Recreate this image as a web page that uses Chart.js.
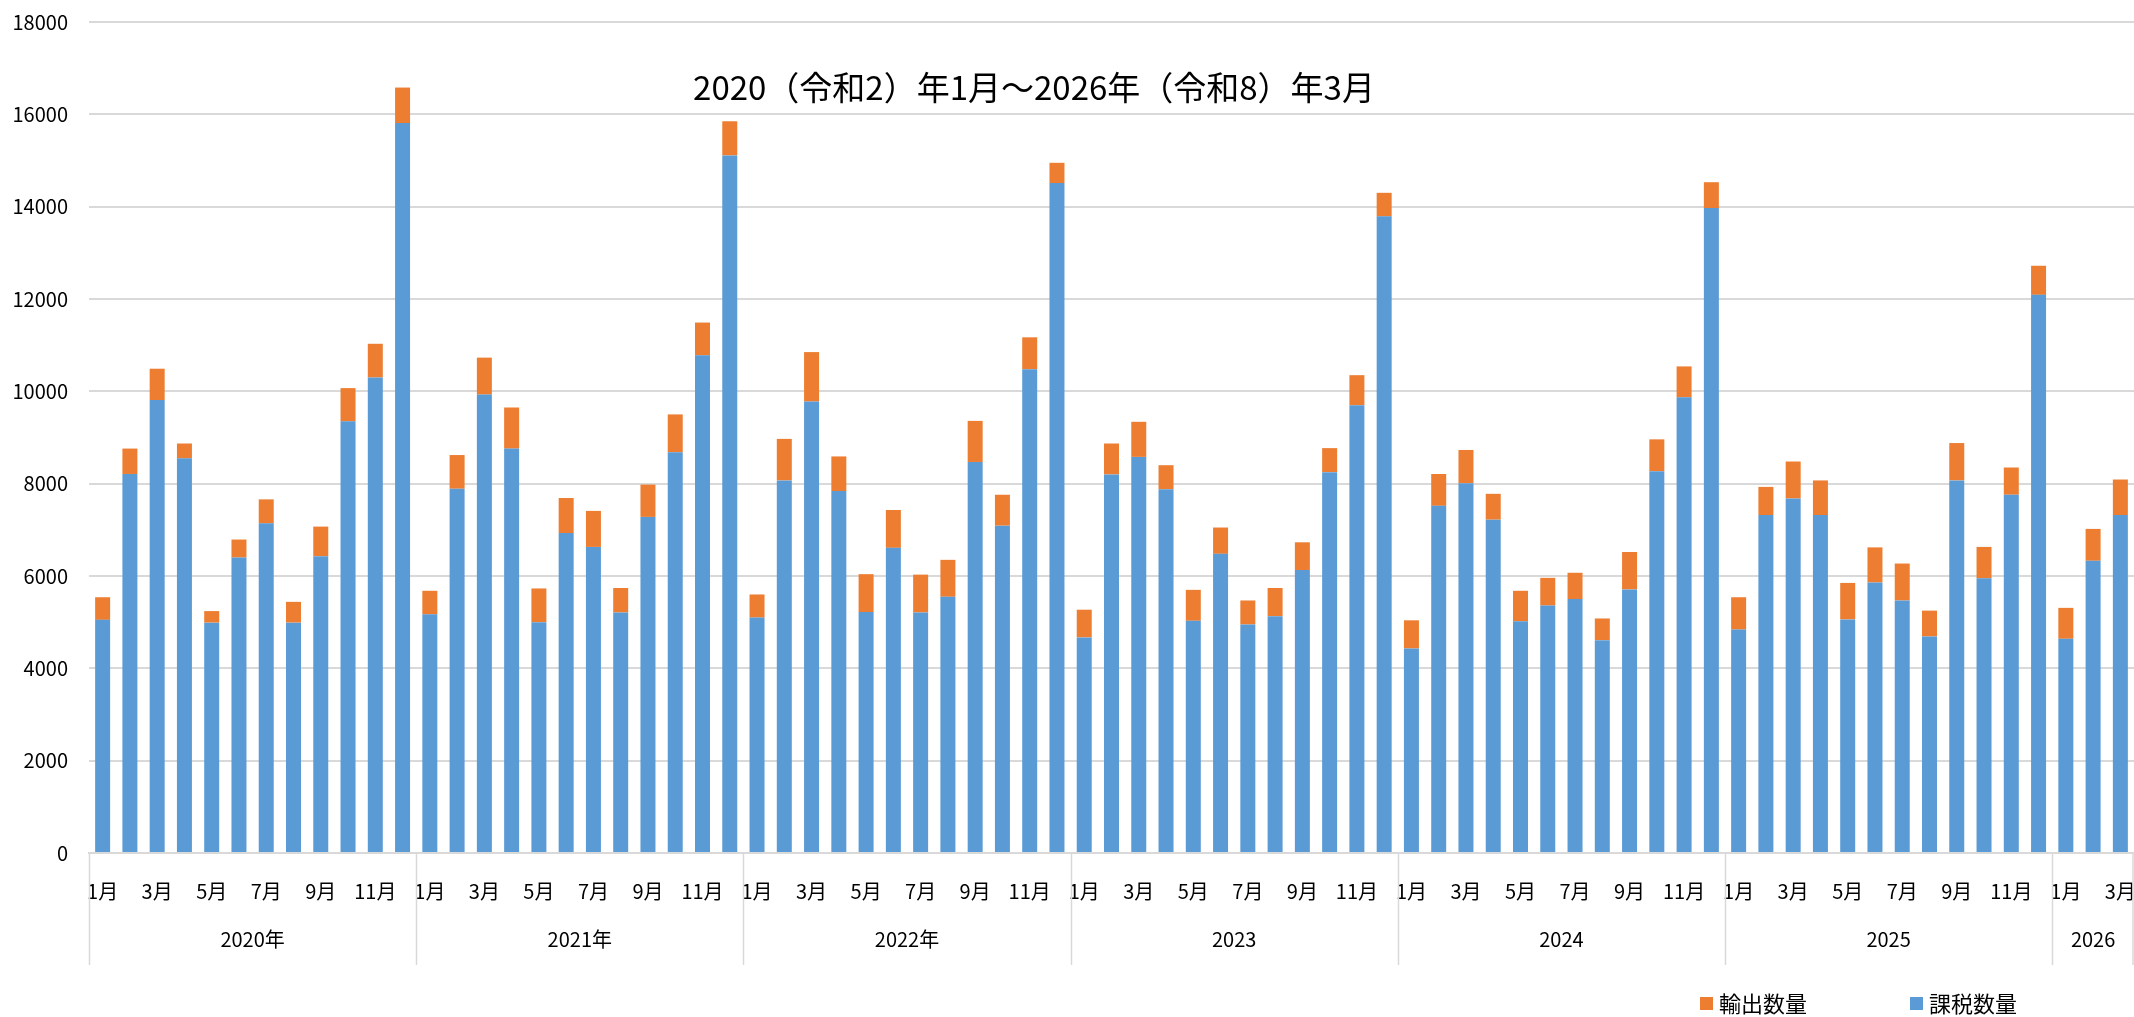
<!DOCTYPE html>
<html lang="ja">
<head>
    <meta charset="UTF-8">
    <title>課税数量・輸出数量</title>
    <script src="https://cdn.jsdelivr.net/npm/chart.js"></script>
    <style>
        html, body {
            margin: 0;
            padding: 0;
            background: #fff;
        }
        #wrap {
            width: 2134px;
            height: 1017px;
        }
    </style>
</head>
<body>
    <div id="wrap"><canvas id="chart"></canvas></div>

    <script>
        // months shown on the axis, grouped by year
        const monthNames = ['1月', '2月', '3月', '4月', '5月', '6月', '7月', '8月', '9月', '10月', '11月', '12月'];
        const yearLabels = ['2020年', '2021年', '2022年', '2023', '2024', '2025', '2026'];
        const monthsPerYear = [12, 12, 12, 12, 12, 12, 3];

        // 課税数量 (blue, bottom of stack)
        const taxed = [
            5050, 8210, 9810, 8550, 4990, 6400, 7140, 4990, 6430, 9350, 10300, 15810,
            5170, 7890, 9930, 8760, 5000, 6930, 6630, 5210, 7280, 8680, 10780, 15110,
            5100, 8070, 9780, 7840, 5220, 6610, 5210, 5550, 8470, 7090, 10480, 14510,
            4670, 8200, 8580, 7880, 5030, 6480, 4950, 5130, 6130, 8250, 9700, 13790,
            4430, 7520, 8010, 7220, 5020, 5360, 5500, 4610, 5710, 8270, 9870, 13970,
            4840, 7320, 7680, 7320, 5060, 5860, 5470, 4690, 8070, 5950, 7760, 12090,
            4640, 6330, 7320
        ];

        // 輸出数量 (orange, top of stack)
        const exported = [
            490, 550, 680, 320, 250, 390, 520, 450, 640, 720, 730, 770,
            510, 730, 800, 890, 730, 760, 780, 530, 700, 820, 710, 740,
            500, 900, 1070, 750, 820, 820, 820, 800, 890, 670, 690, 440,
            600, 670, 760, 520, 670, 570, 520, 610, 600, 520, 650, 510,
            610, 690, 720, 560, 660, 600, 570, 470, 810, 690, 670, 560,
            700, 610, 800, 750, 790, 760, 800, 560, 810, 680, 590, 630,
            670, 690, 770
        ];

        const yTicks = [0, 2000, 4000, 6000, 8000, 10000, 12000, 14000, 16000, 18000];

        const categories = [];
        yearLabels.forEach((y, i) => {
            for (let m = 0; m < monthsPerYear[i]; m++) {
                categories.push(monthNames[m]);
            }
        });

        const FONT = '"Noto Sans CJK JP", "Noto Sans", sans-serif';
        const BLUE = '#5B9BD5';
        const ORANGE = '#ED7D31';
        const GRID = '#d9d9d9';

        // year groups under the month labels, title and legend
        const extrasPlugin = {
            id: 'extras',
            afterDraw(chart) {
                const ctx = chart.ctx;
                const xs = chart.scales.x;
                const area = chart.chartArea;

                ctx.save();
                ctx.strokeStyle = GRID;
                ctx.lineWidth = 1.5;
                ctx.fillStyle = '#000';
                ctx.font = '20px ' + FONT;
                ctx.textAlign = 'center';
                ctx.textBaseline = 'middle';

                let start = 0;
                yearLabels.forEach((label, i) => {
                    const end = start + monthsPerYear[i] - 1;
                    const left = start === 0 ? xs.left
                        : (xs.getPixelForValue(start - 1) + xs.getPixelForValue(start)) / 2;
                    const right = end === categories.length - 1 ? xs.right
                        : (xs.getPixelForValue(end) + xs.getPixelForValue(end + 1)) / 2;

                    ctx.beginPath();
                    ctx.moveTo(Math.round(left) + 0.5, area.bottom);
                    ctx.lineTo(Math.round(left) + 0.5, area.bottom + 112);
                    ctx.stroke();

                    ctx.fillText(label, (left + right) / 2, area.bottom + 86);
                    start = end + 1;
                });
                ctx.beginPath();
                ctx.moveTo(xs.right - 1, area.bottom);
                ctx.lineTo(xs.right - 1, area.bottom + 112);
                ctx.stroke();

                // title
                ctx.font = '33px ' + FONT;
                ctx.fillText('2020（令和2）年1月～2026年（令和8）年3月', area.left + 945, 87);

                // legend
                ctx.font = '22px ' + FONT;
                ctx.textAlign = 'left';
                const items = [
                    { text: '輸出数量', color: ORANGE, x: 1700 },
                    { text: '課税数量', color: BLUE, x: 1910 }
                ];
                items.forEach(it => {
                    ctx.fillStyle = it.color;
                    ctx.fillRect(it.x, 997, 13, 13);
                    ctx.fillStyle = '#000';
                    ctx.fillText(it.text, it.x + 19, 1004);
                });
                ctx.restore();
            }
        };

        const ctx = document.getElementById('chart').getContext('2d');
        const chart = new Chart(ctx, {
            type: 'bar',
            data: {
                labels: categories,
                datasets: [
                    {
                        label: '課税数量',
                        data: taxed,
                        backgroundColor: BLUE,
                        borderWidth: 0
                    },
                    {
                        label: '輸出数量',
                        data: exported,
                        backgroundColor: ORANGE,
                        borderWidth: 0
                    }
                ]
            },
            options: {
                responsive: true,
                maintainAspectRatio: false,
                animation: false,
                layout: {
                    padding: { top: 22, right: 0, left: 0, bottom: 0 }
                },
                datasets: {
                    bar: {
                        barPercentage: 0.55,
                        categoryPercentage: 1.0
                    }
                },
                plugins: {
                    legend: { display: false },
                    title: { display: false },
                    tooltip: { enabled: false }
                },
                scales: {
                    x: {
                        stacked: true,
                        grid: { display: false, drawTicks: false },
                        border: { display: true, color: GRID, width: 2 },
                        ticks: {
                            autoSkip: false,
                            maxRotation: 0,
                            padding: 26,
                            color: '#000',
                            font: { family: FONT, size: 20 },
                            callback: function(value, index) {
                                return index % 2 === 0 ? this.getLabelForValue(value) : '';
                            }
                        },
                        afterFit(scale) {
                            scale.height = 164;
                            scale.paddingLeft = 0;
                            scale.paddingRight = 0;
                        }
                    },
                    y: {
                        stacked: true,
                        min: 0,
                        max: 18000,
                        afterBuildTicks(scale) {
                            scale.ticks = yTicks.map(v => ({ value: v }));
                        },
                        grid: { color: GRID, lineWidth: 2, drawTicks: false },
                        border: { display: false },
                        ticks: {
                            padding: 21,
                            color: '#000',
                            font: { family: FONT, size: 20 },
                            callback: value => String(value)
                        },
                        afterFit(scale) {
                            scale.width = 89;
                            scale.paddingTop = 0;
                            scale.paddingBottom = 0;
                        }
                    }
                }
            },
            plugins: [extrasPlugin]
        });
    </script>
</body>
</html>
